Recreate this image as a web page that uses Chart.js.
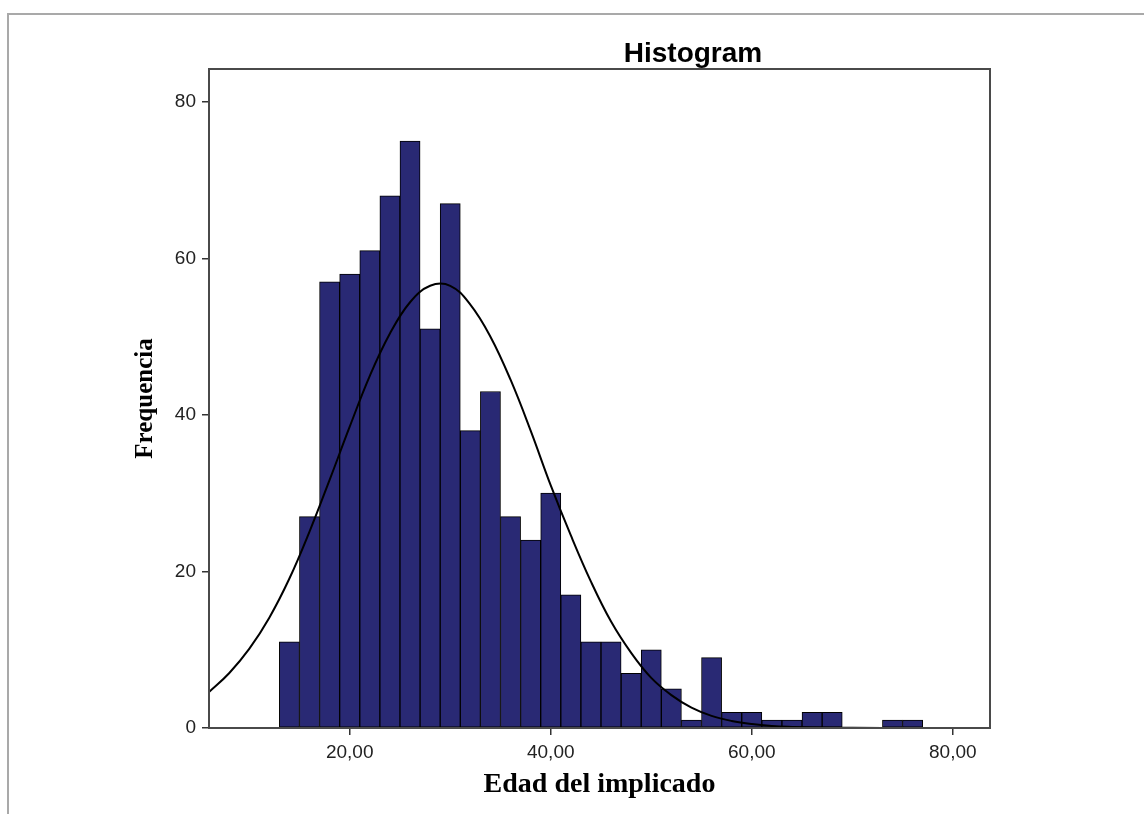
<!DOCTYPE html>
<html>
<head>
<meta charset="utf-8">
<script src="https://cdn.jsdelivr.net/npm/chart.js@4/dist/chart.umd.min.js"></script>
<style>
  html, body { margin: 0; padding: 0; background: #ffffff; }
  #wrap { position: relative; width: 1144px; height: 814px; overflow: hidden; }
  #frame { position: absolute; left: 7px; top: 13px; width: 1150px; height: 820px;
           border-top: 2px solid #a9a9a9; border-left: 2px solid #a9a9a9; }
  canvas { position: absolute; left: 0; top: 0; }
</style>
</head>
<body>
<div id="wrap">
  <div id="frame"></div>
  <canvas id="c" width="1144" height="814"></canvas>
</div>
<script>
// ---- data ----
const binCenters = [14,16,18,20,22,24,26,28,30,32,34,36,38,40,42,44,46,48,50,52,54,56,58,60,62,64,66,68,70,72,74,76];
const binCounts  = [11,27,57,58,61,68,75,51,67,38,43,27,24,30,17,11,11, 7,10, 5, 1, 9, 2, 2, 1, 1, 2, 2, 0, 0, 1, 1];

const curveX = [6, 8, 10, 12, 14, 16, 18, 20, 22, 24, 26, 28, 30, 32, 34, 36, 38, 40, 42, 44, 46, 48, 50, 52, 54, 56, 58, 60, 62, 64, 66, 70, 76, 83.7];
const curveY = [4.6, 7.0, 10.1, 14.1, 19.1, 25.1, 31.7, 38.5, 45.0, 50.4, 54.4, 56.5, 56.5, 54.1, 50.0, 44.5, 38.0, 31.0, 24.6, 18.7, 13.6, 9.6, 6.4, 4.2, 2.6, 1.55, 0.9, 0.5, 0.26, 0.14, 0.07, 0.02, 0, 0];

const xTickValues = [20, 40, 60, 80];
const xTickLabels = ['20,00', '40,00', '60,00', '80,00'];
const yTickValues = [0, 20, 40, 60, 80];
const yTickLabels = ['0', '20', '40', '60', '80'];

const chartTitle = 'Histogram';
const xTitle = 'Edad del implicado';
const yTitle = 'Frequencia';

// ---- chart ----
const frameAndTitle = {
  id: 'frameAndTitle',
  afterDatasetsDraw(chart) {
    const {ctx, chartArea: a} = chart;
    ctx.save();
    ctx.strokeStyle = '#4a4a4a';
    ctx.lineWidth = 2;
    ctx.strokeRect(a.left, a.top, a.right - a.left, a.bottom - a.top);
    ctx.restore();
  },
  afterDraw(chart) {
    const {ctx} = chart;
    ctx.save();
    ctx.fillStyle = '#000000';
    ctx.font = 'bold 28px "Liberation Sans", Arial, sans-serif';
    ctx.textAlign = 'center';
    ctx.textBaseline = 'alphabetic';
    ctx.fillText(chartTitle, 693, 62);
    ctx.restore();
  }
};

new Chart(document.getElementById('c'), {
  type: 'bar',
  data: {
    datasets: [
      {
        type: 'line',
        data: curveX.map((x, i) => ({x: x, y: curveY[i]})),
        borderColor: '#000000',
        borderWidth: 2,
        pointRadius: 0,
        fill: false,
        tension: 0.4,
        order: 0
      },
      {
        type: 'bar',
        data: binCenters.map((x, i) => ({x: x, y: binCounts[i]})),
        backgroundColor: '#292974',
        borderColor: '#000000',
        borderWidth: 1,
        borderSkipped: false,
        barPercentage: 1.0,
        categoryPercentage: 1.0,
        order: 1
      }
    ]
  },
  options: {
    responsive: false,
    animation: false,
    devicePixelRatio: 1,
    layout: { padding: { top: 69, right: 154, bottom: 0, left: 0 } },
    plugins: {
      legend: { display: false },
      tooltip: { enabled: false },
      title: { display: false }
    },
    scales: {
      x: {
        type: 'linear',
        offset: false,
        min: 6,
        max: 83.7,
        afterFit(scale) { scale.height = 86; },
        afterBuildTicks(scale) { scale.ticks = xTickValues.map(v => ({value: v})); },
        ticks: {
          autoSkip: false,
          maxRotation: 0,
          padding: 6,
          color: '#222222',
          font: { family: '"Liberation Sans", Arial, sans-serif', size: 19 },
          callback: (v) => { const i = xTickValues.indexOf(v); return i >= 0 ? xTickLabels[i] : ''; }
        },
        grid: { offset: false, drawOnChartArea: false, drawTicks: true, tickLength: 7, color: '#333333', lineWidth: 1.5 },
        border: { display: true, color: '#4a4a4a', width: 2 },
        title: {
          display: true,
          text: xTitle,
          color: '#000000',
          font: { family: '"Liberation Serif", "Times New Roman", serif', size: 28, weight: 'bold' },
          padding: { top: 0, bottom: 12 }
        }
      },
      y: {
        type: 'linear',
        min: 0,
        max: 84.2,
        afterFit(scale) { scale.width = 209; },
        afterBuildTicks(scale) { scale.ticks = yTickValues.map(v => ({value: v})); },
        ticks: {
          padding: 6,
          color: '#222222',
          font: { family: '"Liberation Sans", Arial, sans-serif', size: 19 },
          callback: (v) => { const i = yTickValues.indexOf(v); return i >= 0 ? yTickLabels[i] : ''; }
        },
        grid: { offset: false, drawOnChartArea: false, drawTicks: true, tickLength: 7, color: '#333333', lineWidth: 1.5 },
        border: { display: true, color: '#4a4a4a', width: 2 },
        title: {
          display: true,
          text: yTitle,
          color: '#000000',
          font: { family: '"Liberation Serif", "Times New Roman", serif', size: 25, weight: 'bold' },
          padding: { top: 131, bottom: 0 }
        }
      }
    }
  },
  plugins: [frameAndTitle]
});
</script>
</body>
</html>
